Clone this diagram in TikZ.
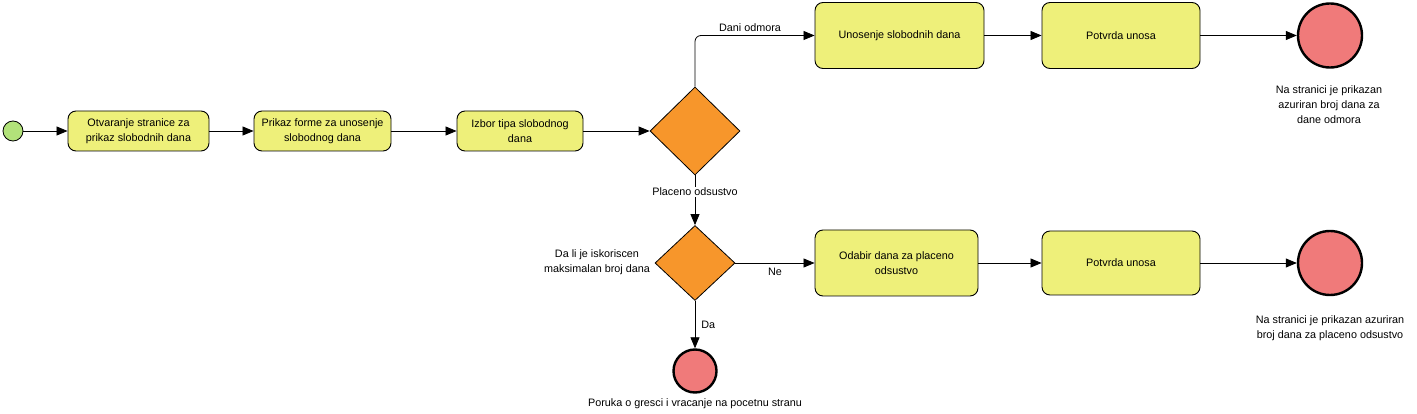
\documentclass[tikz,border=0pt]{standalone}
\usepackage{fontspec}
\setmainfont{Liberation Sans}
\usetikzlibrary{arrows.meta,shapes.geometric}
\definecolor{actfill}{RGB}{238,240,122}
\definecolor{decfill}{RGB}{247,150,43}
\definecolor{endfill}{RGB}{240,122,122}
\definecolor{startfill}{RGB}{178,226,122}
\tikzset{
  act/.style={draw=black, line width=0.9pt, fill=actfill, rounded corners=8pt, align=center, font=\fontsize{10.8}{14.5}\selectfont, inner sep=0pt},
  dec/.style={draw=black, line width=0.8pt, fill=decfill, diamond, inner sep=0pt},
  endev/.style={draw=black, line width=2.4pt, fill=endfill, circle, inner sep=0pt},
  startev/.style={draw=black, line width=0.8pt, fill=startfill, circle, inner sep=0pt, minimum size=20pt},
  flow/.style={draw=black, line width=0.8pt, -{Triangle[length=11pt,width=9pt]}},
  lbl/.style={font=\fontsize{10.8}{15}\selectfont, align=center, inner sep=0pt},
}
\begin{document}
\begin{tikzpicture}[x=1pt,y=-1pt]
\useasboundingbox (0,0) rectangle (1417,414);
% start
\node[startev] (start) at (13,131) {};
% activities
\node[act, minimum width=141pt, minimum height=40pt] (a1) at (138.5,131) {Otvaranje stranice za\\prikaz slobodnih dana};
\node[act, minimum width=137pt, minimum height=40pt] (a2) at (322.5,131) {Prikaz forme za unosenje\\slobodnog dana};
\node[act, minimum width=126pt, minimum height=40pt] (a3) at (520,131) {Izbor tipa slobodnog\\dana};
\node[dec, minimum width=90pt, minimum height=88pt] (d1) at (695,131) {};
\node[act, minimum width=169pt, minimum height=66pt] (a4) at (899.5,35.5) {Unosenje slobodnih dana};
\node[act, minimum width=158pt, minimum height=66pt] (a5) at (1121,35.5) {Potvrda unosa};
\node[endev, minimum size=64pt] (e1) at (1330,35.5) {};
\node[lbl] (t1) at (1329,105) {Na stranici je prikazan\\azuriran broj dana za\\dane odmora};
\node[dec, minimum width=80pt, minimum height=75pt] (d2) at (695,263) {};
\node[lbl] (t2) at (597,262.5) {Da li je iskoriscen\\maksimalan broj dana};
\node[act, minimum width=163pt, minimum height=66pt] (a6) at (896.5,263) {Odabir dana za placeno\\odsustvo};
\node[act, minimum width=158pt, minimum height=64pt] (a7) at (1121,263) {Potvrda unosa};
\node[endev, minimum size=64pt] (e2) at (1330,263) {};
\node[lbl] (t3) at (1330,328.5) {Na stranici je prikazan azuriran\\broj dana za placeno odsustvo};
\node[endev, minimum size=43pt] (e3) at (695,371) {};
\node[lbl] (t4) at (695,404) {Poruka o gresci i vracanje na pocetnu stranu};
% flows
\draw[flow] (start) -- (a1);
\draw[flow] (a1) -- (a2);
\draw[flow] (a2) -- (a3);
\draw[flow] (a3.east) -- (d1.west);
\draw[flow, rounded corners=6pt] (d1.north) |- (a4.west) node[pos=0.73, above=3pt, lbl] {Dani odmora};
\draw[flow] (a4) -- (a5);
\draw[flow] (a5) -- (e1);
\draw[flow] (d1.south) -- (d2.north) node[pos=0.33, lbl, fill=white, inner sep=1pt] {Placeno odsustvo};
\draw[flow] (d2.east) -- (a6.west) node[midway, below=5pt, lbl] {Ne};
\draw[flow] (a6) -- (a7);
\draw[flow] (a7) -- (e2);
\draw[flow] (d2.south) -- (e3.north) node[midway, right=6pt, lbl] {Da};
\end{tikzpicture}
\end{document}
